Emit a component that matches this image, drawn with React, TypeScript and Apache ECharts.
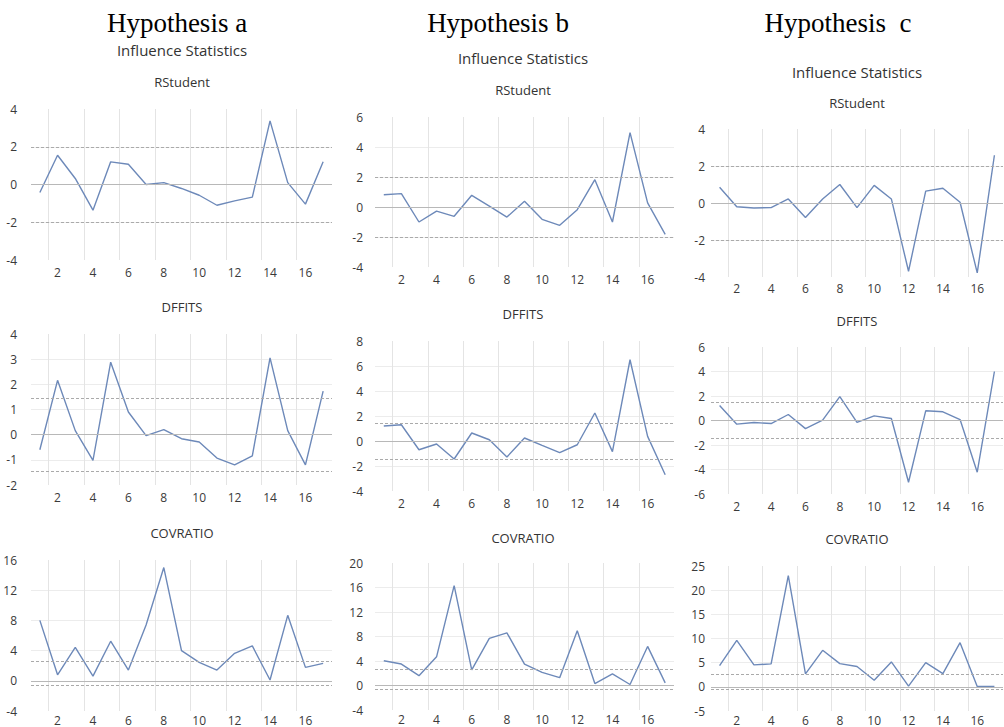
import React, { useEffect, useRef } from "react";
import * as echarts from "echarts";

const xCategories = ["1", "2", "3", "4", "5", "6", "7", "8", "9", "10", "11", "12", "13", "14", "15", "16", "17"];

const rstudentA = [-0.42, 1.55, 0.32, -1.36, 1.2, 1.07, 0.0, 0.1, -0.21, -0.57, -1.1, -0.87, -0.67, 3.37, 0.1, -1.04, 1.2];
const dffitsA = [-0.6, 2.16, 0.16, -1.02, 2.88, 0.9, -0.04, 0.2, -0.16, -0.29, -0.93, -1.2, -0.84, 3.05, 0.16, -1.2, 1.73];
const covratioA = [8.0, 0.8, 4.44, 0.62, 5.24, 1.42, 7.4, 15.0, 4.0, 2.44, 1.42, 3.64, 4.62, 0.1, 8.67, 1.78, 2.3];

const rstudentB = [0.82, 0.89, -1.0, -0.27, -0.62, 0.78, 0.06, -0.67, 0.38, -0.82, -1.22, -0.18, 1.82, -1.0, 4.96, 0.27, -1.82];
const dffitsB = [1.2, 1.3, -0.7, -0.24, -1.44, 0.64, 0.1, -1.28, 0.24, -0.35, -0.93, -0.3, 2.24, -0.85, 6.5, 0.37, -2.7];
const covratioB = [4.04, 3.5, 1.6, 4.68, 16.3, 2.55, 7.7, 8.6, 3.5, 2.13, 1.28, 8.94, 0.32, 1.9, 0.16, 6.38, 0.43];

const rstudentC = [0.85, -0.2, -0.27, -0.25, 0.22, -0.78, 0.22, 1.0, -0.25, 0.95, 0.22, -3.69, 0.64, 0.8, 0.04, -3.78, 2.58];
const dffitsC = [1.23, -0.3, -0.16, -0.25, 0.49, -0.66, 0.03, 1.95, -0.16, 0.38, 0.16, -5.04, 0.79, 0.71, 0.08, -4.22, 4.0];
const covratioC = [4.4, 9.6, 4.54, 4.74, 23.0, 2.68, 7.56, 4.8, 4.2, 1.37, 5.15, 0.14, 5.0, 2.75, 9.14, 0.07, 0.07];

const hypothesisTitles = ["Hypothesis a", "Hypothesis b", "Hypothesis  c"];
const statTitles = ["RStudent", "DFFITS", "COVRATIO"];
const mainTitle = "Influence Statistics";

const rstudentCutoffs = [2, -2];
const dffitsCutoffs = [1.455, -1.455];
const covratioCutoffs = [2.6, -0.6];

// layout per column: left, right; per panel: top, bottom, x-label margin
const colBoxes = [
  { left: 31, right: 332, labelMargin: 14, hypX: 177, subX: 182 },
  { left: 375, right: 674, labelMargin: 12, hypX: 498, subX: 523 },
  { left: 711, right: 1003, labelMargin: 6, hypX: 838, subX: 857 },
];
const rowBoxes = [
  [ { top: 109, bottom: 260, xm: 6 }, { top: 334, bottom: 485, xm: 6 }, { top: 560, bottom: 711, xm: 3 } ],
  [ { top: 117, bottom: 267, xm: 6 }, { top: 341, bottom: 491, xm: 6 }, { top: 563, bottom: 710, xm: 3 } ],
  [ { top: 129, bottom: 277, xm: 5 }, { top: 347, bottom: 494, xm: 6 }, { top: 566, bottom: 711, xm: 3 } ],
];
const textY = [
  { hyp: 23, main: 50, subs: [82, 307, 533] },
  { hyp: 23, main: 58, subs: [90, 314, 538] },
  { hyp: 23, main: 72, subs: [103, 321, 539] },
];

const panels = [
  [
    { data: rstudentA, min: -4, max: 4, interval: 2, cuts: rstudentCutoffs },
    { data: dffitsA, min: -2, max: 4, interval: 1, cuts: dffitsCutoffs },
    { data: covratioA, min: -4, max: 16, interval: 4, cuts: covratioCutoffs },
  ],
  [
    { data: rstudentB, min: -4, max: 6, interval: 2, cuts: rstudentCutoffs },
    { data: dffitsB, min: -4, max: 8, interval: 2, cuts: dffitsCutoffs },
    { data: covratioB, min: -4, max: 20, interval: 4, cuts: covratioCutoffs },
  ],
  [
    { data: rstudentC, min: -4, max: 4, interval: 2, cuts: rstudentCutoffs },
    { data: dffitsC, min: -6, max: 6, interval: 2, cuts: dffitsCutoffs },
    { data: covratioC, min: -5, max: 25, interval: 5, cuts: covratioCutoffs },
  ],
];

const SANS = "'Open Sans', 'Noto Sans', sans-serif";
const everyOther = (i: number) => i % 2 === 1;

function buildOption() {
  const grids: any[] = [];
  const xAxes: any[] = [];
  const yAxes: any[] = [];
  const series: any[] = [];
  const graphics: any[] = [];

  for (let c = 0; c < 3; c++) {
    const col = colBoxes[c];
    const ty = textY[c];
    graphics.push({
      type: "text", x: col.hypX, y: ty.hyp, silent: true,
      style: { text: hypothesisTitles[c], align: "center", verticalAlign: "middle", fontFamily: "'Liberation Serif', 'Times New Roman', serif", fontSize: 27, fill: "#000" },
    });
    graphics.push({
      type: "text", x: col.subX, y: ty.main, silent: true,
      style: { text: mainTitle, align: "center", verticalAlign: "middle", fontFamily: SANS, fontSize: 15, fill: "#333" },
    });
    for (let r = 0; r < 3; r++) {
      const idx = grids.length;
      const box = rowBoxes[c][r];
      const p = panels[c][r];
      graphics.push({
        type: "text", x: col.subX, y: ty.subs[r], silent: true,
        style: { text: statTitles[r], align: "center", verticalAlign: "middle", fontFamily: SANS, fontSize: 13, fill: "#333" },
      });
      grids.push({ left: col.left, top: box.top, width: col.right - col.left, height: box.bottom - box.top, containLabel: false });
      xAxes.push({
        type: "category", gridIndex: idx, data: xCategories, boundaryGap: true,
        axisLine: { show: false }, axisTick: { show: false },
        axisLabel: { interval: everyOther, margin: box.xm, color: "#3a3a3a", fontSize: 12, fontFamily: SANS },
        splitLine: { show: true, interval: everyOther, showMaxLine: false, lineStyle: { color: "#e4e4e4", width: 1 } },
      });
      yAxes.push({
        type: "value", gridIndex: idx, min: p.min, max: p.max, interval: p.interval,
        axisLine: { show: false }, axisTick: { show: false },
        axisLabel: { margin: col.labelMargin, color: "#3a3a3a", fontSize: 12, fontFamily: SANS },
        splitLine: { show: true, showMinLine: false, showMaxLine: false, lineStyle: { color: "#ececec", width: 1 } },
      });
      series.push({
        type: "line", xAxisIndex: idx, yAxisIndex: idx, data: p.data,
        symbol: "none", lineStyle: { color: "#6d89b9", width: 1.4 },
        markLine: {
          silent: true, symbol: ["none", "none"], label: { show: false },
          data: [
            { yAxis: 0, lineStyle: { type: "solid", color: "#b8b8b8", width: 1.2 } },
            ...p.cuts.map((v) => ({ yAxis: v, lineStyle: { type: [3, 2], color: "#aaaaaa", width: 1 } })),
          ],
        },
        z: 3,
      });
    }
  }

  return {
    animation: false,
    backgroundColor: "#ffffff",
    grid: grids,
    xAxis: xAxes,
    yAxis: yAxes,
    series,
    graphic: graphics,
  };
}

export default function App() {
  const ref = useRef<HTMLDivElement>(null);
  useEffect(() => {
    if (!ref.current) return;
    const chart = echarts.init(ref.current, null, { renderer: "svg" });
    chart.setOption(buildOption());
    return () => chart.dispose();
  }, []);
  return (
    <div
      ref={ref}
      style={{ position: "fixed", left: 0, top: 0, width: 1004, height: 727, background: "#fff" }}
    />
  );
}
